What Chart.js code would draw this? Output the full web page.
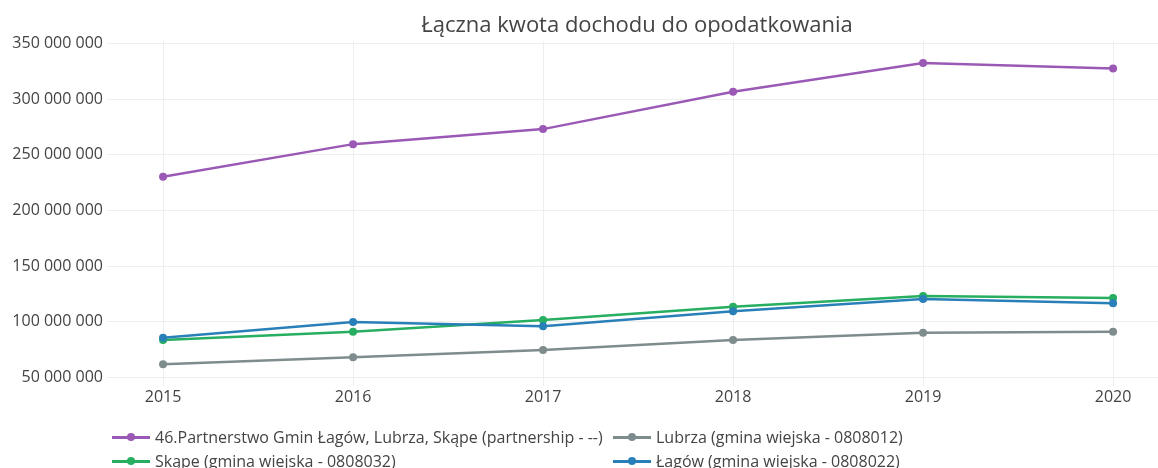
<!DOCTYPE html>
<html>
<head>
<meta charset="utf-8">
<script src="https://cdn.jsdelivr.net/npm/chart.js@4/dist/chart.umd.min.js"></script>
<style>
  html, body { margin: 0; padding: 0; background: #fff; overflow: hidden; }
  #wrap { position: relative; width: 1158px; height: 468px; overflow: hidden; }
  #chart { position: absolute; left: 0; top: 0; }
  #legend { position: absolute; left: 0; top: 0; font-family: "Open Sans", sans-serif; font-size: 16px; color: #444; }
  .item { position: absolute; height: 20px; line-height: 20px; white-space: nowrap; }
  .sym { position: absolute; left: 0; top: 9px; width: 38px; height: 2.5px; }
  .dot { position: absolute; left: 15px; top: -3px; width: 8px; height: 8px; border-radius: 50%; }
  .txt { position: absolute; left: 43px; top: 0; }
</style>
</head>
<body>
<div id="wrap">
  <canvas id="chart" width="1274" height="468" style="width:1274px;height:468px"></canvas>
  <div id="legend"></div>
</div>
<script>
const TITLE = 'Łączna kwota dochodu do opodatkowania';
const years = [2015, 2016, 2017, 2018, 2019, 2020];
const yTicks = [50000000, 100000000, 150000000, 200000000, 250000000, 300000000, 350000000];

const labels = [
  '46.Partnerstwo Gmin Łagów, Lubrza, Skąpe (partnership - --)',
  'Lubrza (gmina wiejska - 0808012)',
  'Skąpe (gmina wiejska - 0808032)',
  'Łagów (gmina wiejska - 0808022)'
];
const colors = ['#9b59b6', '#7f8c8d', '#27ae60', '#2980b9'];

const partnership = [230200000, 259500000, 273000000, 306500000, 332400000, 327500000];
const lubrza      = [61700000, 68000000, 74500000, 83500000, 90100000, 91000000];
const skape       = [83500000, 91000000, 101500000, 113500000, 123100000, 121300000];
const lagow       = [85600000, 99700000, 95900000, 109400000, 120400000, 116500000];

const series = [partnership, lubrza, skape, lagow];

function fmt(v) {
  return String(Math.round(v)).replace(/\B(?=(\d{3})+(?!\d))/g, ' ');
}

const datasets = series.map((vals, i) => ({
  label: labels[i],
  data: vals.map((v, j) => ({ x: years[j], y: v })),
  borderColor: colors[i],
  backgroundColor: colors[i],
  borderWidth: 2.5,
  pointRadius: 4,
  pointHoverRadius: 4,
  pointBorderWidth: 0,
  tension: 0,
  order: series.length - i   // later traces on top, like the original
}));

new Chart(document.getElementById('chart'), {
  type: 'line',
  data: { datasets },
  options: {
    responsive: false,
    animation: false,
    layout: { padding: { left: 0, right: 0, top: 0, bottom: 52 } },
    plugins: {
      legend: { display: false },
      tooltip: { enabled: false },
      title: {
        display: true,
        text: TITLE,
        color: '#444',
        font: { family: 'Open Sans', size: 22, weight: 'normal' },
        padding: { top: 13, bottom: 2 }
      }
    },
    scales: {
      x: {
        type: 'linear',
        min: 2014.705,
        max: 2020.826,
        afterBuildTicks: s => { s.ticks = years.map(v => ({ value: v })); },
        afterFit: s => { s.height = 30; },
        grid: { color: '#eeeeee', drawTicks: false },
        border: { display: false },
        ticks: {
          color: '#444',
          padding: 2,
          font: { family: 'Open Sans', size: 16 },
          callback: v => String(v)
        }
      },
      y: {
        min: 42200000,
        max: 351800000,
        afterBuildTicks: s => { s.ticks = yTicks.map(v => ({ value: v })); },
        afterFit: s => { s.width = 107; },
        grid: { color: '#eeeeee', drawTicks: false },
        border: { display: false },
        ticks: {
          color: '#444',
          padding: 4,
          font: { family: 'Open Sans', size: 16 },
          callback: v => fmt(v)
        }
      }
    }
  }
});

// two-column legend under the plot, row by row
const legendPos = [[112, 427], [613, 427], [112, 451], [613, 451]];
const legend = document.getElementById('legend');
labels.forEach((name, i) => {
  const item = document.createElement('div');
  item.className = 'item';
  item.style.left = legendPos[i][0] + 'px';
  item.style.top = legendPos[i][1] + 'px';
  item.innerHTML = `<div class="sym" style="background:${colors[i]}"><div class="dot" style="background:${colors[i]}"></div></div><span class="txt"></span>`;
  item.querySelector('.txt').textContent = name;
  legend.appendChild(item);
});
</script>
</body>
</html>
